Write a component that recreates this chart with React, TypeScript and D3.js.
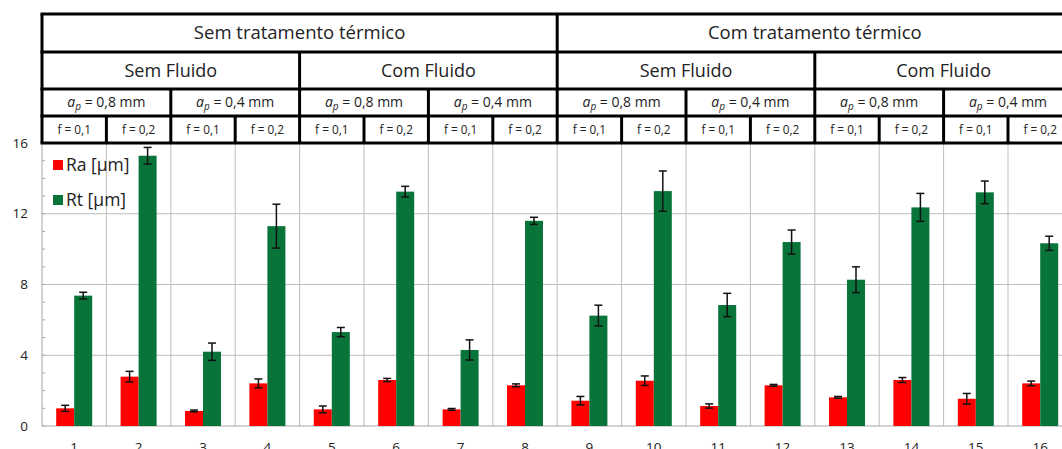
import React from "react";
import * as d3 from "d3";

const categories = ["1","2","3","4","5","6","7","8","9","10","11","12","13","14","15","16"];
const raValues = [1.0, 2.79, 0.85, 2.41, 0.94, 2.6, 0.94, 2.3, 1.43, 2.56, 1.13, 2.3, 1.62, 2.6, 1.54, 2.41];
const raErrors = [0.17, 0.3, 0.05, 0.25, 0.19, 0.09, 0.05, 0.08, 0.24, 0.27, 0.12, 0.05, 0.05, 0.14, 0.3, 0.13];
const rtValues = [7.37, 15.28, 4.2, 11.3, 5.31, 13.25, 4.3, 11.6, 6.24, 13.28, 6.84, 10.4, 8.27, 12.36, 13.21, 10.33];
const rtErrors = [0.19, 0.47, 0.49, 1.24, 0.26, 0.3, 0.57, 0.2, 0.59, 1.14, 0.66, 0.68, 0.73, 0.79, 0.64, 0.4];
const yTicks = [0, 4, 8, 12, 16];
const seriesNames = ["Ra [µm]", "Rt [µm]"];
const seriesColors = ["#ff0000", "#08743a"];

const headerTreatment = ["Sem tratamento térmico", "Com tratamento térmico"];
const headerFluid = ["Sem Fluido", "Com Fluido", "Sem Fluido", "Com Fluido"];
const headerAp = ["0,8", "0,4", "0,8", "0,4", "0,8", "0,4", "0,8", "0,4"];
const headerF = ["0,1", "0,2", "0,1", "0,2", "0,1", "0,2", "0,1", "0,2", "0,1", "0,2", "0,1", "0,2", "0,1", "0,2", "0,1", "0,2"];

const W = 1062;
const H = 449;
const left = 42;
const bandW = 64.4;
const top = 143;
const bottom = 426;
const rowY = [14, 52, 89, 116, 143];
const font = "'Open Sans', 'Noto Sans', sans-serif";

export default function App() {
  const x = d3.scaleBand<string>().domain(categories).range([left, left + bandW * categories.length]).padding(0);
  const y = d3.scaleLinear().domain([0, 16]).range([bottom, top]);
  const barW = 18;
  const minorTicks = d3.range(0, 17, 1);

  const levels = [
    { labels: headerTreatment, span: 8, fs: 18.5 },
    { labels: headerFluid, span: 4, fs: 18 },
    { labels: headerAp, span: 2, fs: 14 },
    { labels: headerF, span: 1, fs: 11.8 },
  ];

  const cx = (i: number) => (x(categories[i]) as number) + x.bandwidth() / 2;

  return (
    <svg width={W} height={H} style={{ position: "absolute", left: 0, top: 0, background: "#fff" }}>
      <rect x={0} y={0} width={W} height={H} fill="#fff" />
      {yTicks.filter(t => t > 0 && t < 16).map(t => (
        <line key={"hg" + t} x1={left} x2={W} y1={y(t)} y2={y(t)} stroke="#bdbdbd" strokeWidth={1} />
      ))}
      {categories.slice(1).map(c => (
        <line key={"vg" + c} x1={x(c) as number} x2={x(c) as number} y1={top} y2={bottom} stroke="#bdbdbd" strokeWidth={1} />
      ))}
      <line x1={left} x2={left} y1={top} y2={bottom} stroke="#a6a6a6" strokeWidth={1} />
      <line x1={left} x2={W} y1={bottom} y2={bottom} stroke="#a6a6a6" strokeWidth={1} />
      {minorTicks.map(t => (
        <line key={"mt" + t} x1={left} x2={left + 3} y1={y(t)} y2={y(t)} stroke="#a6a6a6" strokeWidth={1} />
      ))}
      {yTicks.map(t => (
        <text key={"yl" + t} x={28} y={y(t)} dy="0.35em" textAnchor="end" fontFamily={font} fontSize={13.5} fill="#222">{t}</text>
      ))}
      {categories.map((c, i) => (
        <text key={"xl" + c} x={cx(i)} y={452} textAnchor="middle" fontFamily={font} fontSize={13.5} fill="#222">{c}</text>
      ))}
      {categories.map((c, i) => {
        const xc = cx(i);
        const bars = [
          { v: raValues[i], e: raErrors[i], x0: xc - barW, col: seriesColors[0] },
          { v: rtValues[i], e: rtErrors[i], x0: xc, col: seriesColors[1] },
        ];
        return (
          <g key={"b" + c}>
            {bars.map((b, j) => (
              <g key={j}>
                <rect x={b.x0} y={y(b.v)} width={barW} height={bottom - y(b.v)} fill={b.col} />
                <line x1={b.x0 + barW / 2} x2={b.x0 + barW / 2} y1={y(b.v + b.e)} y2={y(b.v - b.e)} stroke="#111" strokeWidth={1.5} />
                <line x1={b.x0 + barW / 2 - 4} x2={b.x0 + barW / 2 + 4} y1={y(b.v + b.e)} y2={y(b.v + b.e)} stroke="#111" strokeWidth={1.5} />
                <line x1={b.x0 + barW / 2 - 4} x2={b.x0 + barW / 2 + 4} y1={y(b.v - b.e)} y2={y(b.v - b.e)} stroke="#111" strokeWidth={1.5} />
              </g>
            ))}
          </g>
        );
      })}
      {seriesNames.map((s, i) => (
        <g key={"lg" + i} transform={`translate(53, ${160 + i * 35})`}>
          <rect x={0} y={0} width={10} height={10} fill={seriesColors[i]} />
          <text x={13} y={5} dy="0.35em" fontFamily={font} fontSize={17.5} fill="#222">{s}</text>
        </g>
      ))}
      <rect x={left} y={rowY[0]} width={W} height={rowY[4] - rowY[0]} fill="#fff" />
      {levels.map((lv, li) => {
        const y0 = rowY[li];
        const y1 = rowY[li + 1];
        const fs = lv.fs;
        return (
          <g key={"lv" + li}>
            {lv.labels.map((lab, k) => {
              const xa = left + k * lv.span * bandW;
              const xb = xa + lv.span * bandW;
              const xm = (xa + xb) / 2;
              const ym = (y0 + y1) / 2;
              return (
                <g key={k}>
                  {k > 0 && <line x1={xa} x2={xa} y1={y0} y2={y1} stroke="#000" strokeWidth={3} />}
                  {li === 2 ? (
                    <text x={xm} y={ym} dy="0.35em" textAnchor="middle" fontFamily={font} fontSize={fs} fill="#222">
                      <tspan fontStyle="italic">a</tspan>
                      <tspan fontStyle="italic" fontSize={10} dy="3">p</tspan>
                      <tspan dy="-3">{" = " + lab + " mm"}</tspan>
                    </text>
                  ) : (
                    <text x={xm} y={ym} dy="0.35em" textAnchor="middle" fontFamily={font} fontSize={fs} fill="#222">
                      {li === 3 ? "f = " + lab : lab}
                    </text>
                  )}
                </g>
              );
            })}
          </g>
        );
      })}
      {rowY.map((ry, i) => (
        <line key={"hr" + i} x1={left - 1.5} x2={W} y1={ry} y2={ry} stroke="#000" strokeWidth={3} />
      ))}
      <line x1={left} x2={left} y1={rowY[0]} y2={rowY[4]} stroke="#000" strokeWidth={3} />
    </svg>
  );
}
